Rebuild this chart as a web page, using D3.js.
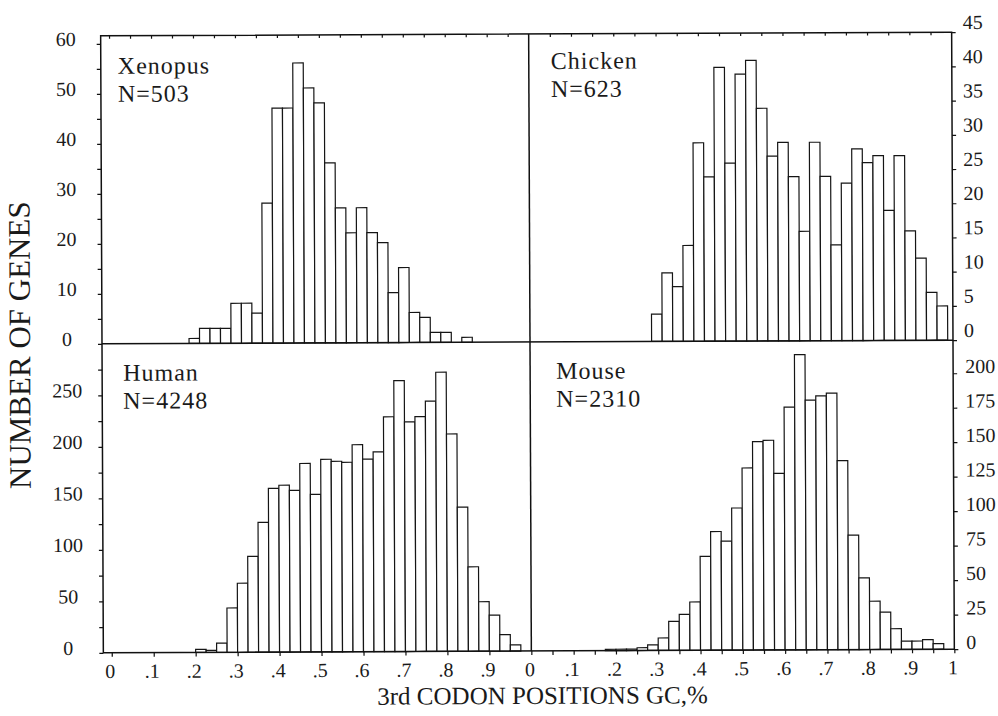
<!DOCTYPE html>
<html><head><meta charset="utf-8">
<script src="https://cdn.jsdelivr.net/npm/d3@7"></script>
<style>body{margin:0;background:#fff}svg{display:block}</style>
</head><body><svg id="c" width="998" height="716"></svg>
<script>
// ---- data ----
const binWidth = 0.025;
const xenopusStart = 0.1875;
const xenopusCounts = [1,3,3,3,8,8,6,28,47,47,56,51,48,36,27,22,27,22,20,10,15,6,5,2,2,0,1];
const chickenStart = 0.2875;
const chickenCounts = [4,10,8,14,29,24,40,26,39,41,34,27,29,24,16,29,24,14,23,28,26,27,19,27,16,12,7,5];
const humanStart = 0.2;
const humanCounts = [3,2,9,43,67,93,126,159,162,157,183,153,187,185,184,201,187,194,228,263,223,228,243,271,211,140,82,48,35,16,6];
const mouseStart = 0.175;
const mouseCounts = [1,1,1,2,4,9,21,26,35,68,86,79,103,132,151,152,128,176,214,181,184,186,137,83,52,35,27,15,6,6,7,4];
const panelNames = ["Xenopus","Chicken","Human","Mouse"];
const panelN = ["N=503","N=623","N=4248","N=2310"];
const leftXTicks = [0,0.1,0.2,0.3,0.4,0.5,0.6,0.7,0.8,0.9];
const leftXLabels = ["0",".1",".2",".3",".4",".5",".6",".7",".8",".9"];
const rightXTicks = [0,0.1,0.2,0.3,0.4,0.5,0.6,0.7,0.8,0.9,1];
const rightXLabels = ["0",".1",".2",".3",".4",".5",".6",".7",".8",".9","1"];
const xenopusYTicks = [0,5,10,15,20,25,30,35,40,45,50,55,60];
const xenopusYLabels = [0,10,20,30,40,50,60];
const chickenYTicks = [0,5,10,15,20,25,30,35,40,45];
const humanYTicks = [0,25,50,75,100,125,150,175,200,225,250,275];
const humanYLabels = [0,50,100,150,200,250];
const mouseYTicks = [0,25,50,75,100,125,150,175,200];
const yTitle = "NUMBER OF GENES";
const xTitle = "3rd CODON POSITIONS GC,%";

// ---- layout ----
const L = 102, M = 530, R = 953, T = 34, MID = 342, B = 651;
const FONT = "'Liberation Serif','Times New Roman',serif";
const svg = d3.select("#c");
const g = svg.append("g").attr("transform", "rotate(-0.25 527 343)");

const xLeft = d3.scaleLinear().domain([-0.02, 1]).range([L, M]);
const xRight = d3.scaleLinear().domain([0, 1]).range([M, R]);
const yXen = d3.scaleLinear().domain([0, 61.6]).range([MID, T]);
const yChi = d3.scaleLinear().domain([0, 45]).range([MID, T]);
const yHum = d3.scaleLinear().domain([0, 300]).range([B, MID]);
const yMou = d3.scaleLinear().domain([0, 224]).range([B, MID]);

const panels = [
  {name: panelNames[0], n: panelN[0], start: xenopusStart, counts: xenopusCounts, x: xLeft, y: yXen, lx: L + 17, ly: T + 38},
  {name: panelNames[1], n: panelN[1], start: chickenStart, counts: chickenCounts, x: xRight, y: yChi, lx: M + 22, ly: T + 35},
  {name: panelNames[2], n: panelN[2], start: humanStart, counts: humanCounts, x: xLeft, y: yHum, lx: L + 21, ly: MID + 37},
  {name: panelNames[3], n: panelN[3], start: mouseStart, counts: mouseCounts, x: xRight, y: yMou, lx: M + 26, ly: MID + 37}
];

panels.forEach(p => {
  const bins = p.counts.map((c, i) => ({x0: p.start + i * binWidth, x1: p.start + (i + 1) * binWidth, c}));
  g.append("g").selectAll("rect").data(bins.filter(d => d.c > 0)).join("rect")
    .attr("x", d => p.x(d.x0))
    .attr("width", d => p.x(d.x1) - p.x(d.x0))
    .attr("y", d => p.y(d.c))
    .attr("height", d => p.y(0) - p.y(d.c))
    .attr("fill", "#fff").attr("stroke", "#151515").attr("stroke-width", 1.2);
  const t = g.append("text").attr("x", p.lx).attr("y", p.ly)
    .attr("font-family", FONT).attr("font-size", 24).attr("letter-spacing", 1).attr("fill", "#1a1a1a");
  t.append("tspan").attr("x", p.lx).text(p.name);
  t.append("tspan").attr("x", p.lx).attr("dy", 28).text(p.n);
});

// frame
const frame = g.append("g").attr("fill", "none").attr("stroke", "#111").attr("stroke-width", 1.5);
frame.append("rect").attr("x", L).attr("y", T).attr("width", R - L).attr("height", B - T);
frame.append("line").attr("x1", M).attr("x2", M).attr("y1", T).attr("y2", B);
frame.append("line").attr("x1", L).attr("x2", R).attr("y1", MID).attr("y2", MID);

function styleAxis(sel) {
  sel.select(".domain").remove();
  sel.selectAll("line").attr("stroke", "#111").attr("stroke-width", 1.2);
  sel.selectAll("text").attr("font-family", FONT).attr("font-size", 20).attr("fill", "#1a1a1a");
}

// left axes
g.append("g").attr("transform", `translate(${L},0)`)
  .call(d3.axisLeft(yXen).tickValues(xenopusYTicks).tickSize(4)
    .tickFormat(d => xenopusYLabels.includes(d) ? d : ""))
  .call(styleAxis)
  .call(s => s.selectAll("text").attr("text-anchor", "middle").attr("x", 67 - L).attr("y", -5));
g.append("g").attr("transform", `translate(${L},0)`)
  .call(d3.axisLeft(yHum).tickValues(humanYTicks).tickSize(4)
    .tickFormat(d => humanYLabels.includes(d) ? d : ""))
  .call(styleAxis)
  .call(s => s.selectAll("text").attr("text-anchor", "middle").attr("x", 67 - L).attr("y", -5));

// right axes
g.append("g").attr("transform", `translate(${R},0)`)
  .call(d3.axisRight(yChi).tickValues(chickenYTicks).tickSize(4))
  .call(styleAxis)
  .call(s => s.selectAll("text").attr("x", 11).attr("y", -10));
g.append("g").attr("transform", `translate(${R},0)`)
  .call(d3.axisRight(yMou).tickValues(mouseYTicks).tickSize(4))
  .call(styleAxis)
  .call(s => s.selectAll("text").attr("x", 12).attr("y", -7));

// bottom axes
g.append("g").attr("transform", `translate(0,${B})`)
  .call(d3.axisBottom(xLeft).tickValues(leftXTicks).tickSize(4)
    .tickFormat((d, i) => leftXLabels[i]))
  .call(styleAxis)
  .call(s => s.selectAll("text").attr("y", 11).attr("dx", -2));
g.append("g").attr("transform", `translate(0,${B})`)
  .call(d3.axisBottom(xRight).tickValues(d3.range(0, 1.0001, 0.05)).tickSize(4)
    .tickFormat(d => { const i = rightXTicks.findIndex(v => Math.abs(v - d) < 1e-6); return i >= 0 ? rightXLabels[i] : ""; }))
  .call(styleAxis)
  .call(s => s.selectAll("text").attr("y", 11).attr("dx", -2));

// top border small ticks
g.append("g").attr("transform", `translate(0,${T})`)
  .call(d3.axisBottom(xLeft).tickValues(d3.range(0, 0.96, 0.05)).tickSize(3).tickFormat(""))
  .call(styleAxis);
g.append("g").attr("transform", `translate(0,${T})`)
  .call(d3.axisBottom(xRight).tickValues(d3.range(0.05, 0.96, 0.05)).tickSize(3).tickFormat(""))
  .call(styleAxis);

// titles
g.append("text").attr("transform", `translate(30,343) rotate(-90)`)
  .attr("text-anchor", "middle").attr("font-family", FONT).attr("font-size", 31).attr("fill", "#1a1a1a")
  .text(yTitle);
g.append("text").attr("x", 541).attr("y", 704)
  .attr("text-anchor", "middle").attr("font-family", FONT).attr("font-size", 25).attr("fill", "#1a1a1a")
  .text(xTitle);
</script>
</body></html>
